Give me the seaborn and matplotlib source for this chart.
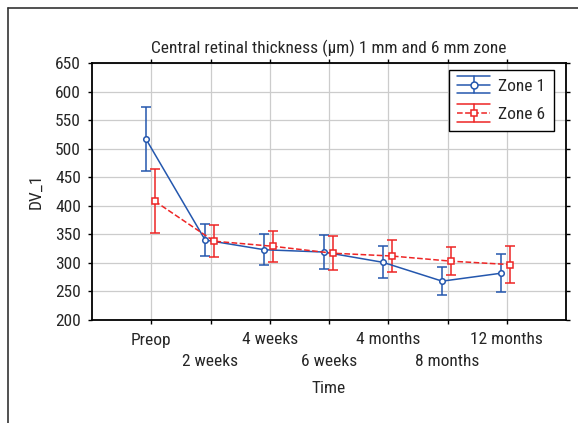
import numpy as np
import pandas as pd
import matplotlib
matplotlib.use("Agg")
import matplotlib.pyplot as plt
import seaborn as sns
from matplotlib.lines import Line2D
from matplotlib.legend_handler import HandlerBase

# ---- data ----
categories = ["Preop", "2 weeks", "4 weeks", "6 weeks", "4 months", "8 months", "12 months"]
zone1_mean = [517, 340, 323, 319, 301, 268, 282]
zone1_err = [56, 28, 27, 30, 28, 25, 33]
zone6_mean = [408, 338, 329, 317, 312, 303, 297]
zone6_err = [56, 28, 27, 30, 28, 25, 33]
series_names = ["Zone 1", "Zone 6"]
yticks = [200, 250, 300, 350, 400, 450, 500, 550, 600, 650]

sns.set_theme(style="whitegrid")
fam = ["Roboto Condensed", "Fira Sans Condensed", "IBM Plex Sans Condensed", "DejaVu Sans"]
plt.rcParams["font.family"] = fam
plt.rcParams["font.size"] = 12.5

fig = plt.figure(figsize=(5.78, 4.23), dpi=100)
ax = fig.add_axes([92/578, 1-320/423, (566-92)/578, (320-63)/423])

blue = "#2457ae"
red = "#ee2525"
offsets = [-0.09, 0.06]
colors = [blue, red]
markers = ["o", "s"]
styles = ["-", "--"]

idx = np.arange(len(categories))
rows = []
for name, means, off in zip(series_names, [zone1_mean, zone6_mean], offsets):
    for i, m in enumerate(means):
        rows.append({"x": i + off, "y": m, "series": name})
df = pd.DataFrame(rows)

for name, means, errs, c, mk, ls, off in zip(series_names, [zone1_mean, zone6_mean],
                                             [zone1_err, zone6_err], colors, markers, styles, offsets):
    sub = df[df["series"] == name]
    sns.lineplot(data=sub, x="x", y="y", ax=ax, color=c, linestyle=ls, lw=1.1,
                 marker=mk, markersize=4, markerfacecolor="white",
                 markeredgecolor=c, markeredgewidth=1.1, legend=False, zorder=3)
    ax.errorbar(sub["x"], sub["y"], yerr=errs, fmt="none", ecolor=c,
                elinewidth=1.1, capsize=3.5, capthick=1.1, zorder=2)


class ErrHandle:
    def __init__(self, color, marker, ls):
        self.color, self.marker, self.ls = color, marker, ls


class ErrHandler(HandlerBase):
    def create_artists(self, legend, orig, xdescent, ydescent, width, height, fontsize, trans):
        x0, x1 = -xdescent, -xdescent + width
        yc = -ydescent + height / 2
        h = 0.5 * fontsize
        c = orig.color
        arts = [
            Line2D([x0, x1], [yc, yc], color=c, lw=1.1, linestyle=orig.ls),
            Line2D([x0, x1], [yc + h, yc + h], color=c, lw=1.1),
            Line2D([x0, x1], [yc - h, yc - h], color=c, lw=1.1),
            Line2D([(x0 + x1) / 2] * 2, [yc - h, yc + h], color=c, lw=1.1),
            Line2D([(x0 + x1) / 2], [yc], color=c, marker=orig.marker, markersize=5,
                   markerfacecolor="white", markeredgecolor=c, markeredgewidth=1.1),
        ]
        for a in arts:
            a.set_transform(trans)
        return arts


leg_handles = [ErrHandle(c, mk, ls) for c, mk, ls in zip(colors, markers, styles)]
leg = ax.legend(leg_handles, series_names, handler_map={ErrHandle: ErrHandler()},
                loc="upper right", frameon=True, fancybox=False,
                edgecolor="black", framealpha=1, fontsize=12.5, borderpad=0.5,
                handlelength=1.9, handletextpad=0.45, labelspacing=0.75,
                borderaxespad=0, bbox_to_anchor=(0.9747, 0.9728))
leg.get_frame().set_linewidth(1.0)

ax.set_xlim(-1, 7)
ax.set_ylim(200, 650)
major_idx = [i for i in idx if i % 2 == 0]
minor_idx = [i for i in idx if i % 2 == 1]
ax.set_xticks(major_idx)
ax.set_xticklabels([categories[i] for i in major_idx])
ax.set_xticks(minor_idx, minor=True)
ax.set_xticklabels([categories[i] for i in minor_idx], minor=True)
ax.set_yticks(yticks)
ax.set_xlabel("Time", fontsize=12.5, labelpad=8.5)
ax.set_ylabel("DV_1", fontsize=12.5, labelpad=8)
ax.set_title("Central retinal thickness (\u00b5m) 1 mm and 6 mm zone", fontsize=12.5, pad=7)

ax.xaxis.grid(True, which="both", color="#cccccc", lw=0.9)
ax.yaxis.grid(True, which="major", color="#cccccc", lw=0.9)
for s in ax.spines.values():
    s.set_visible(True)
    s.set_color("black")
    s.set_linewidth(1.3)
ax.tick_params(axis="both", which="both", direction="out", length=3, width=1,
               color="black", labelsize=12.5,
               top=True, right=True, left=True, bottom=True)
ax.tick_params(axis="x", which="major", top=True, labeltop=False, pad=6)
ax.tick_params(axis="x", which="minor", top=True, labeltop=False, pad=21.5)
ax.tick_params(axis="y", right=True, labelright=False, pad=5)

# outer frame lines (left and top)
fig.add_artist(Line2D([8/578, 8/578], [0, 1-8/423], transform=fig.transFigure, color="#333333", lw=1.2))
fig.add_artist(Line2D([8/578, 1], [1-8/423, 1-8/423], transform=fig.transFigure, color="#333333", lw=1.2))

fig.savefig("out.png", dpi=100)
